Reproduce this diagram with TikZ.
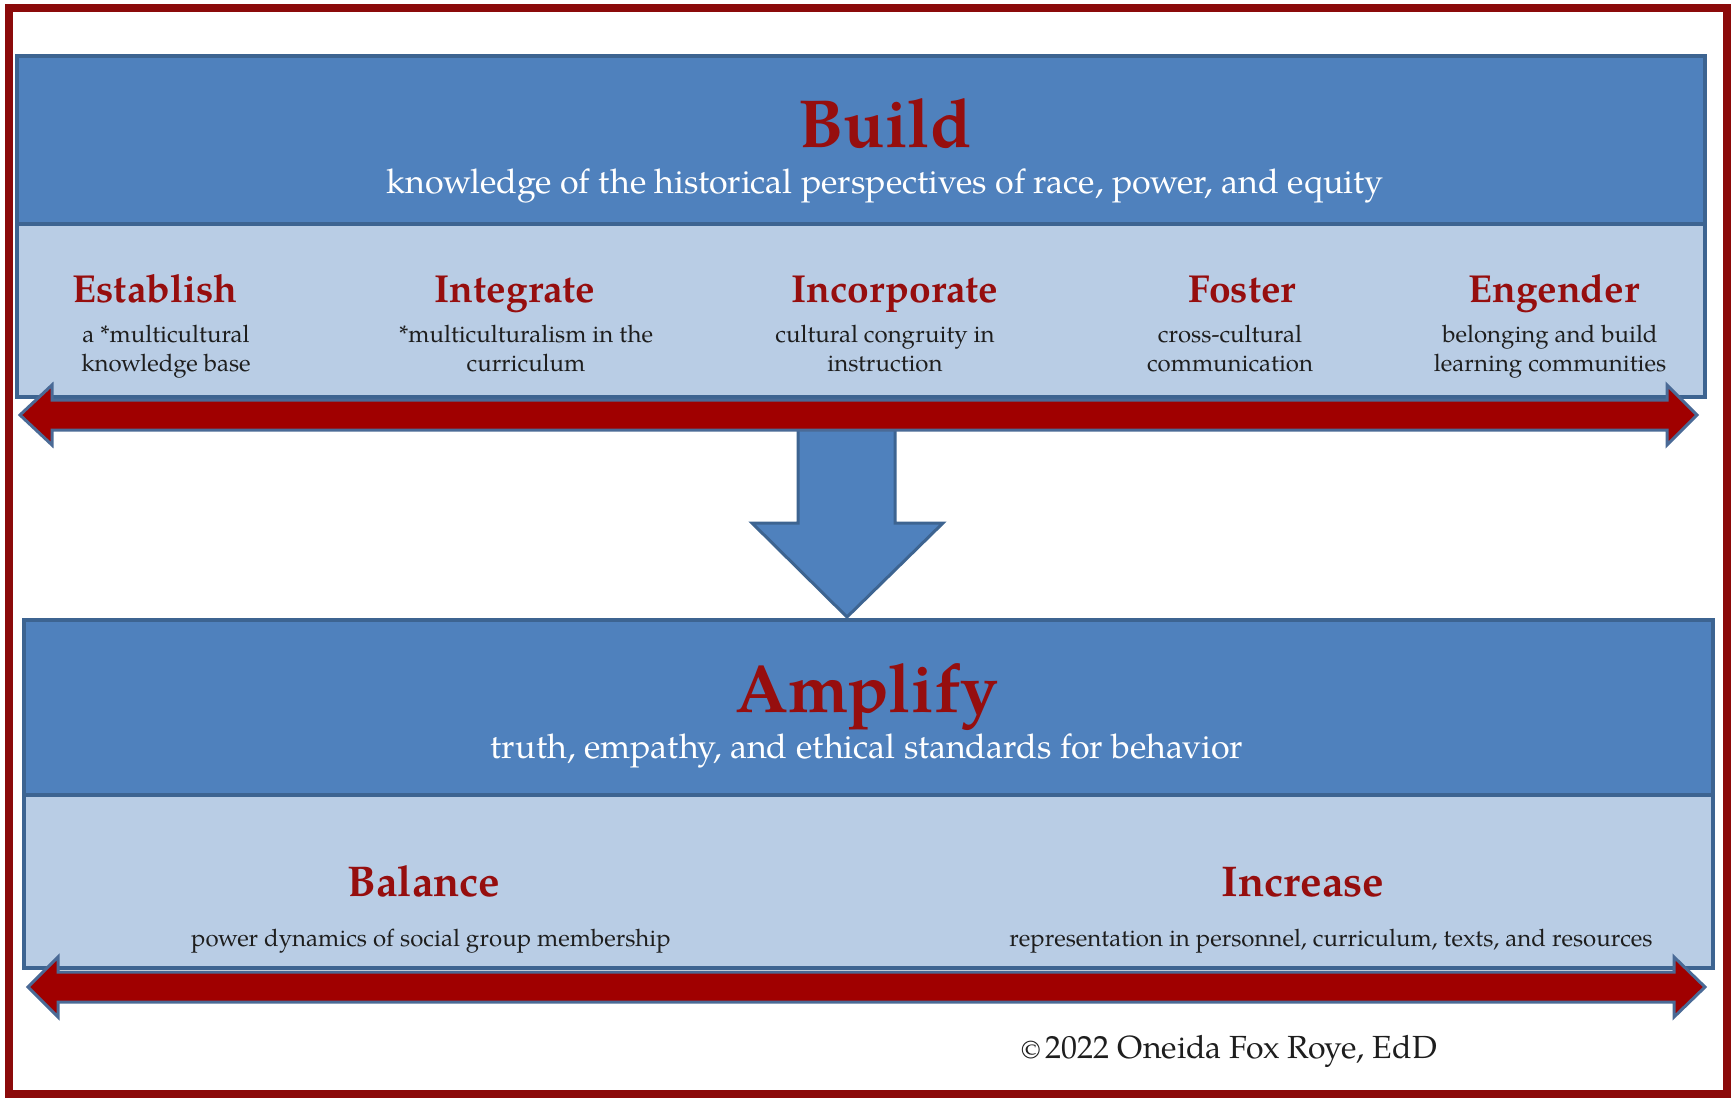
\documentclass[tikz,border=0pt]{standalone}
\usepackage{fontspec}
\setmainfont{texgyrepagella}[Extension=.otf, UprightFont=*-regular, BoldFont=*-bold, ItalicFont=*-italic, BoldItalicFont=*-bolditalic]
\definecolor{framered}{HTML}{8B0A0A}
\definecolor{darkband}{HTML}{4F81BD}
\definecolor{lightband}{HTML}{B9CDE5}
\definecolor{bandline}{HTML}{3D6491}
\definecolor{arrowred}{HTML}{A00000}
\definecolor{arrowline}{HTML}{4A6A96}
\definecolor{titlered}{HTML}{960E0E}
\definecolor{txt}{HTML}{1E1E1E}
\tikzset{
  band/.style={draw=bandline, line width=4pt, anchor=north west, inner sep=0pt},
  redarrow/.style={fill=arrowred, draw=arrowline, line width=3pt, line join=miter},
  downarrow/.style={fill=darkband, draw=bandline, line width=3pt, line join=miter},
  maintitle/.style={font=\fontsize{68}{68}\selectfont\bfseries, text=titlered, anchor=base, inner sep=0pt},
  subtitle/.style={font=\fontsize{34}{34}\selectfont, text=white, anchor=base, inner sep=0pt},
  headword/.style={font=\fontsize{39}{39}\selectfont\bfseries, text=titlered, anchor=base, inner sep=0pt},
  bigheadword/.style={headword, font=\fontsize{43}{43}\selectfont\bfseries},
  desc/.style={font=\fontsize{24}{29}\selectfont, text=txt, anchor=base, align=center, inner sep=0pt},
}
\begin{document}
\begin{tikzpicture}[x=1pt, y=-1pt]
\useasboundingbox (0,0) rectangle (1731,1098);
\fill[white] (0,0) rectangle (1731,1098);
% outer frame
\draw[framered, line width=8pt] (9,8) rectangle (1727,1094);

% Build box
\node[band, fill=darkband, minimum width=1688pt, minimum height=168pt] (buildhead) at (15,54) {};
\node[band, fill=lightband, minimum width=1688pt, minimum height=173pt] (buildbody) at (15,222) {};

% down arrow
\draw[downarrow] (798,425) -- (895,425) -- (895,523) -- (943,523) -- (847,617) -- (752,523) -- (798,523) -- cycle;

% top double arrow
\draw[redarrow] (20,415) -- (52,385) -- (52,400) -- (1667,400) -- (1667,385) -- (1697,415)
  -- (1667,445) -- (1667,430) -- (52,430) -- (52,445) -- cycle;

% Amplify box
\node[band, fill=darkband, minimum width=1689pt, minimum height=175pt] (amphead) at (22,618) {};
\node[band, fill=lightband, minimum width=1689pt, minimum height=173pt] (ampbody) at (22,793) {};

% bottom double arrow
\draw[redarrow] (28,987) -- (58,957) -- (58,972) -- (1674,972) -- (1674,957) -- (1705,987)
  -- (1674,1017) -- (1674,1002) -- (58,1002) -- (58,1017) -- cycle;

% texts: Build
\node[maintitle] (build) at (885,147) {Build};
\node[subtitle] (buildsub) at (885,193) {knowledge of the historical perspectives of race, power, and equity};

\node[headword] (establish) at (155,302) {Establish};
\node[desc] (establishd) at (166,371) {a *multicultural\\knowledge base};
\node[headword] (integrate) at (515,302) {Integrate};
\node[desc] (integrated) at (526,371) {*multiculturalism in the\\curriculum};
\node[headword] (incorporate) at (895,302) {Incorporate};
\node[desc] (incorporated) at (885,371) {cultural congruity in\\instruction};
\node[headword] (foster) at (1242,302) {Foster};
\node[desc] (fosterd) at (1230,371) {cross-cultural\\communication};
\node[headword] (engender) at (1554,302) {Engender};
\node[desc] (engenderd) at (1550,371) {belonging and build\\learning communities};

% texts: Amplify
\node[maintitle] (amplify) at (867,712) {Amplify};
\node[subtitle] (amplifysub) at (867,758) {truth, empathy, and ethical standards for behavior};

\node[bigheadword] (balance) at (424,896) {Balance};
\node[desc] (balanced) at (431,946) {power dynamics of social group membership};
\node[bigheadword] (increase) at (1303,896) {Increase};
\node[desc] (increased) at (1331,946) {representation in personnel, curriculum, texts, and resources};

% copyright
\node[font=\fontsize{32}{32}\selectfont, text=txt, anchor=base, inner sep=0pt] (copy) at (1229,1058)
  {{\fontsize{26}{26}\selectfont\textcopyright}\,2022 Oneida Fox Roye, EdD};
\end{tikzpicture}
\end{document}
